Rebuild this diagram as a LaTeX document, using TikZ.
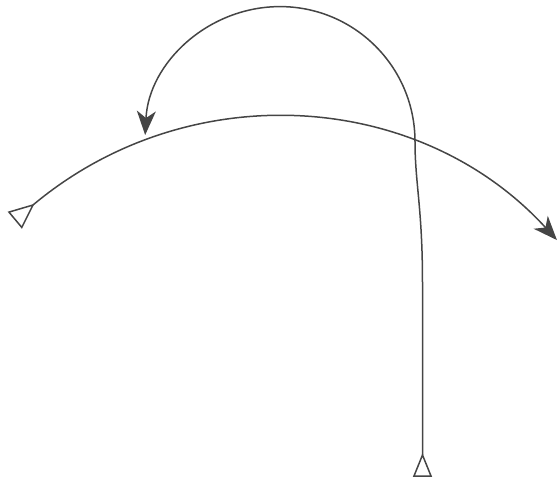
\documentclass[tikz,border=0pt]{standalone}
\usetikzlibrary{arrows.meta}
\definecolor{ink}{HTML}{454545}
\tikzset{
  wire/.style={draw=ink, line width=1.5pt},
  headarrow/.style={-{Stealth[length=24pt,width=19pt,inset=7pt,fill=ink]}},
  opentri/.style={draw=ink, line width=1.5pt, line join=miter, fill=white}
}
\begin{document}
\begin{tikzpicture}[x=1pt,y=1pt]
\useasboundingbox (0,0) rectangle (558,483);
% named points
\coordinate (s1) at (33,278);
\coordinate (s2) at (422.5,28);
\coordinate (bend) at (422.5,200);
\coordinate (loopR) at (415,341.4);
% horizontal arc: from left triangle to right arrowhead
\draw[wire, headarrow] (s1) arc[start angle=129.95, end angle=42.39, radius=379.5];
% vertical line rising and looping back down on the arc
\draw[wire, headarrow] (s2) -- (bend) .. controls (422.5,275) and (415,300) .. (loopR)
  arc[start angle=0, end angle=177.2, radius=135];
% start triangles
\draw[opentri, shift={(s1)}, rotate=39.95] (0,0) -- (-23,10) -- (-23,-10) -- cycle;
\draw[opentri] (s2) -- ++(-8.5,-21) -- ++(17,0) -- cycle;
\end{tikzpicture}
\end{document}
